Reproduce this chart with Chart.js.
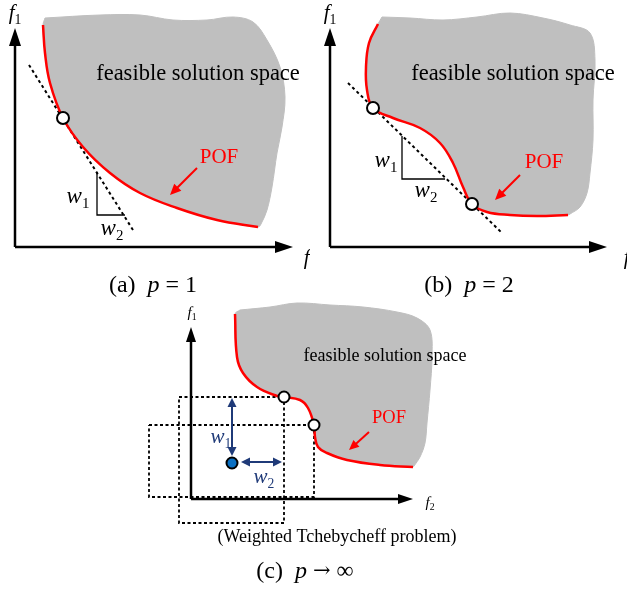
<!DOCTYPE html>
<html>
<head>
    <meta charset="utf-8">
    <title>Weighted sum vs. Tchebycheff scalarization</title>
    <script src="https://cdn.jsdelivr.net/npm/chart.js"></script>
    <style>
        body { margin: 0; background: #fff; }
        canvas { position: absolute; }
    </style>
</head>
<body>
    <canvas id="chartA" width="310" height="300" style="left:0;top:0"></canvas>
    <canvas id="chartB" width="317" height="300" style="left:310px;top:0"></canvas>
    <canvas id="chartC" width="627" height="294" style="left:0;top:300px"></canvas>

    <script>
        // points are [f2, f1], measured from each panel's axis origin
        // (a) p = 1
        var pofA = [[28,222],[30,194],[35,164],[48,129],[68,100],[95,74],[125,54],[162,39],[202,27],[243,20]];
        var regionA = [[30,229],[85,232],[125,232],[158,227],[192,227],[218,230],[238,225],[252,207],[265,180],[270,150],[267,120],[262,94],[257,60],[252,37],[246,23]];
        var tangentA = [[14,182],[118,17]];
        var weightA = [[82,75],[82,32],[110,32]];
        var optimaA = [[48,129]];

        // (b) p = 2
        var pofB = [[48,223],[39,204],[36,180],[37,157],[43,139],[63,129],[90,119],[110,104],[123,84],[133,60],[142,43],[157,35],[180,32],[207,31],[238,32]];
        var regionB = [[52,230],[80,229],[113,227],[147,230],[180,234],[213,229],[240,222],[260,214],[265,187],[263,147],[263,107],[260,74],[257,54],[250,40],[240,33]];
        var tangentB = [[18,164],[172,14]];
        var weightB = [[72,111],[72,68],[115,68]];
        var optimaB = [[43,139],[142,43]];

        // (c) p -> infinity
        var pofC = [[44,185],[46,142],[52,126],[66,112],[86,103],[93,102],[109,99],[117,91],[123,74],[124,62],[127,52],[136,46],[156,39],[189,34],[222,32]];
        var regionC = [[49,189],[79,192],[106,196],[139,194],[172,192],[206,187],[226,181],[239,169],[241,142],[239,109],[236,76],[234,56],[229,42],[223,33]];
        var boxC1 = [[-12,102],[93,102],[93,-24],[-12,-24],[-12,102]];
        var boxC2 = [[-42,74],[123,74],[123,2],[-42,2],[-42,74]];
        var optimaC = [[93,102],[123,74]];
        var refPointC = [[41,36]];

        var SERIF = '"Liberation Serif", "Times New Roman", "DejaVu Serif", serif';
        var RED = '#ff0000';
        var NAVY = '#1f3a78';

        function pts(a) {
            return a.map(function (p) { return { x: p[0], y: p[1] }; });
        }

        function shape(region, pof) {
            return region.concat(pof.slice().reverse()).concat([region[0]]);
        }

        function sub(main, s) {
            return [{ t: main, it: true }, { t: s, sub: true }];
        }

        function drawArrow(ctx, x1, y1, x2, y2, a) {
            var ang = Math.atan2(y2 - y1, x2 - x1);
            var cos = Math.cos(ang), sin = Math.sin(ang);
            var sx = x1, sy = y1, ex = x2 - a.len * 0.8 * cos, ey = y2 - a.len * 0.8 * sin;
            if (a.both) {
                sx = x1 + a.len * 0.8 * cos;
                sy = y1 + a.len * 0.8 * sin;
            }
            ctx.save();
            ctx.strokeStyle = a.color;
            ctx.fillStyle = a.color;
            ctx.lineWidth = a.width;
            ctx.beginPath();
            ctx.moveTo(sx, sy);
            ctx.lineTo(ex, ey);
            ctx.stroke();
            var heads = a.both ? [[x2, y2, 1], [x1, y1, -1]] : [[x2, y2, 1]];
            heads.forEach(function (h) {
                var c = cos * h[2], s = sin * h[2];
                ctx.beginPath();
                ctx.moveTo(h[0], h[1]);
                ctx.lineTo(h[0] - a.len * c + a.half * s, h[1] - a.len * s - a.half * c);
                ctx.lineTo(h[0] - a.len * c - a.half * s, h[1] - a.len * s + a.half * c);
                ctx.closePath();
                ctx.fill();
            });
            ctx.restore();
        }

        function drawText(ctx, parts, cx, by, size, color) {
            function font(p) {
                var s = p.size || (p.sub ? size * 0.65 : size);
                return (p.it ? 'italic ' : '') + s + 'px ' + (p.face || SERIF);
            }
            var widths = [], total = 0;
            parts.forEach(function (p) {
                ctx.font = font(p);
                var w = ctx.measureText(p.t).width;
                widths.push(w);
                total += w;
            });
            var x = cx - total / 2;
            ctx.save();
            ctx.fillStyle = color;
            ctx.textAlign = 'left';
            ctx.textBaseline = 'alphabetic';
            parts.forEach(function (p, i) {
                ctx.font = font(p);
                ctx.fillText(p.t, x, by + (p.sub ? size * 0.22 : 0) + (p.dy || 0));
                x += widths[i];
            });
            ctx.restore();
        }

        // arrows and text drawn through the chart's own scales
        function decor(spec) {
            return {
                id: 'decor',
                afterDatasetsDraw: function (chart) {
                    var ctx = chart.ctx, sx = chart.scales.x, sy = chart.scales.y;
                    spec.arrows.forEach(function (a) {
                        drawArrow(ctx, sx.getPixelForValue(a.from[0]), sy.getPixelForValue(a.from[1]),
                            sx.getPixelForValue(a.to[0]), sy.getPixelForValue(a.to[1]), a);
                    });
                    spec.labels.forEach(function (l) {
                        drawText(ctx, l.parts, sx.getPixelForValue(l.at[0]), sy.getPixelForValue(l.at[1]), l.size, l.color || '#000');
                    });
                }
            };
        }

        function axisArrows(xTip, yTip, len, half) {
            return [
                { from: [0, 0], to: [xTip, 0], color: '#000', width: 2.5, len: len, half: half },
                { from: [0, 0], to: [0, yTip], color: '#000', width: 2.5, len: len, half: half }
            ];
        }

        function panel(id, xr, yr, datasets, spec) {
            return new Chart(document.getElementById(id).getContext('2d'), {
                type: 'line',
                data: { datasets: datasets },
                options: {
                    responsive: false,
                    animation: false,
                    devicePixelRatio: 1,
                    events: [],
                    layout: { padding: 0, autoPadding: false },
                    plugins: { legend: { display: false }, tooltip: { enabled: false } },
                    scales: {
                        x: { type: 'linear', display: false, min: xr[0], max: xr[1] },
                        y: { type: 'linear', display: false, min: yr[0], max: yr[1] }
                    }
                },
                plugins: [decor(spec)]
            });
        }

        function regionSet(region, pof) {
            return { data: pts(shape(region, pof)), fill: 'shape', backgroundColor: '#bfbfbf', borderColor: '#bfbfbf',
                borderWidth: 1, pointRadius: 0, tension: 0.35, order: 10, clip: false };
        }
        function pofSet(pof) {
            return { data: pts(pof), borderColor: RED, borderWidth: 2.5, pointRadius: 0, tension: 0.4, fill: false, order: 2 };
        }
        function lineSet(data, dash, width) {
            return { data: pts(data), borderColor: '#000', borderWidth: width, borderDash: dash, pointRadius: 0,
                tension: 0, fill: false, order: 3 };
        }
        function dotSet(data, r, fillColor) {
            return { data: pts(data), showLine: false, pointRadius: r, pointBackgroundColor: fillColor,
                pointBorderColor: '#000', pointBorderWidth: 2, order: 0, clip: false };
        }

        panel('chartA', [-15, 295], [-53, 247], [
            regionSet(regionA, pofA),
            pofSet(pofA),
            lineSet(tangentA, [3, 3], 2),
            lineSet(weightA, [], 1.3),
            dotSet(optimaA, 6, '#fff')
        ], {
            arrows: axisArrows(278, 219, 18, 6).concat([
                { from: [182, 79], to: [155, 52], color: RED, width: 2, len: 11, half: 5 }
            ]),
            labels: [
                { parts: sub('f', '1'), at: [0, 228], size: 21 },
                { parts: sub('f', '2'), at: [295, -17], size: 21 },
                { parts: [{ t: 'feasible solution space' }], at: [183, 167], size: 22.5 },
                { parts: [{ t: 'POF' }], at: [204, 84], size: 21, color: RED },
                { parts: sub('w', '1'), at: [63, 44], size: 23 },
                { parts: sub('w', '2'), at: [97, 12], size: 23 },
                { parts: [{ t: '(a)' }, { t: '  ' }, { t: 'p', it: true }, { t: ' = 1' }], at: [138, -45], size: 24 }
            ]
        });

        panel('chartB', [-20, 297], [-53, 247], [
            regionSet(regionB, pofB),
            pofSet(pofB),
            lineSet(tangentB, [3, 3], 2),
            lineSet(weightB, [], 1.3),
            dotSet(optimaB, 6, '#fff')
        ], {
            arrows: axisArrows(277, 219, 18, 6).concat([
                { from: [190, 72], to: [165, 47], color: RED, width: 2, len: 11, half: 5 }
            ]),
            labels: [
                { parts: sub('f', '1'), at: [0, 228], size: 21 },
                { parts: sub('f', '2'), at: [300, -17], size: 21 },
                { parts: [{ t: 'feasible solution space' }], at: [183, 167], size: 22.5 },
                { parts: [{ t: 'POF' }], at: [214, 79], size: 21, color: RED },
                { parts: sub('w', '1'), at: [56, 80], size: 23 },
                { parts: sub('w', '2'), at: [96, 50], size: 23 },
                { parts: [{ t: '(b)' }, { t: '  ' }, { t: 'p', it: true }, { t: ' = 2' }], at: [139, -45], size: 24 }
            ]
        });

        panel('chartC', [-191, 436], [-95, 199], [
            regionSet(regionC, pofC),
            pofSet(pofC),
            lineSet(boxC1, [3, 2.5], 1.8),
            lineSet(boxC2, [3, 2.5], 1.8),
            dotSet(optimaC, 5.5, '#fff'),
            dotSet(refPointC, 5.5, '#0a6fc2')
        ], {
            arrows: axisArrows(222, 172, 15, 5).concat([
                { from: [178, 67], to: [158, 49], color: RED, width: 2, len: 10, half: 4.5 },
                { from: [41, 43], to: [41, 101], color: NAVY, width: 2, len: 9, half: 4.5, both: true },
                { from: [50, 37], to: [91, 37], color: NAVY, width: 2, len: 9, half: 4.5, both: true }
            ]),
            labels: [
                { parts: sub('f', '1'), at: [1, 182], size: 15 },
                { parts: sub('f', '2'), at: [239, -8], size: 15 },
                { parts: [{ t: 'feasible solution space' }], at: [194, 138], size: 18 },
                { parts: [{ t: 'POF' }], at: [198, 76], size: 18.5, color: RED },
                { parts: sub('w', '1'), at: [30, 56], size: 21, color: NAVY },
                { parts: sub('w', '2'), at: [73, 16], size: 21, color: NAVY },
                { parts: [{ t: '(Weighted Tchebycheff problem)' }], at: [146, -43], size: 18 },
                { parts: [{ t: '(c)' }, { t: '  ' }, { t: 'p', it: true }, { t: ' ' },
                    { t: '\u2192', face: '"DejaVu Serif", serif', size: 21, dy: -1 }, { t: ' \u221e' }], at: [114, -79], size: 24 }
            ]
        });
    </script>
</body>
</html>
